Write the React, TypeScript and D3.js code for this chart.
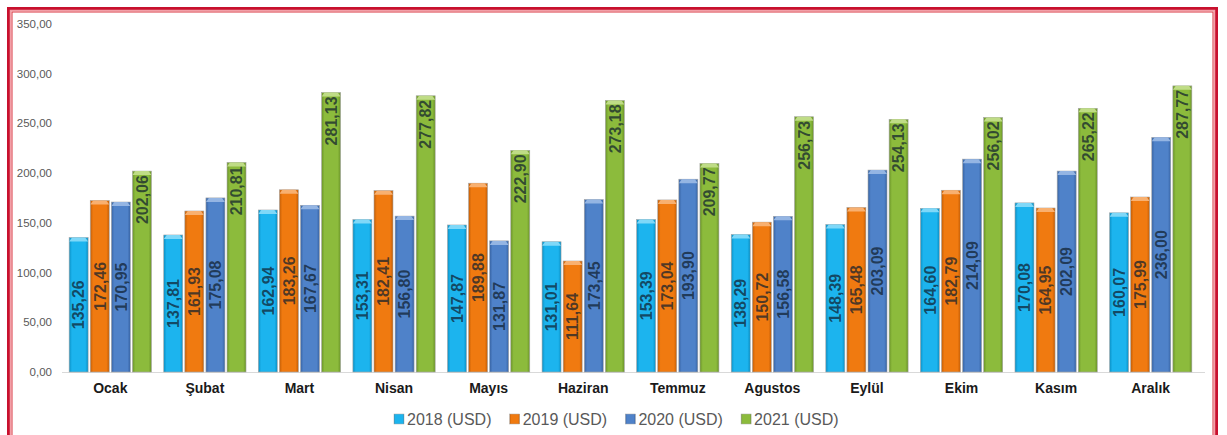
import React from "react";
import * as d3 from "d3";

const months = ["Ocak", "Şubat", "Mart", "Nisan", "Mayıs", "Haziran", "Temmuz", "Agustos", "Eylül", "Ekim", "Kasım", "Aralık"];
const seriesNames = ["2018 (USD)", "2019 (USD)", "2020 (USD)", "2021 (USD)"];
const v2018 = [135.26, 137.81, 162.94, 153.31, 147.87, 131.01, 153.39, 138.29, 148.39, 164.6, 170.08, 160.07];
const v2019 = [172.46, 161.93, 183.26, 182.41, 189.88, 111.64, 173.04, 150.72, 165.48, 182.79, 164.95, 175.99];
const v2020 = [170.95, 175.08, 167.67, 156.8, 131.87, 173.45, 193.9, 156.58, 203.09, 214.09, 202.09, 236.0];
const v2021 = [202.06, 210.81, 281.13, 277.82, 222.9, 273.18, 209.77, 256.73, 254.13, 256.02, 265.22, 287.77];
const yTicks = [0, 50, 100, 150, 200, 250, 300, 350];

const colors = ["#1cb4ee", "#f07a10", "#4f82c9", "#8cbb3c"];
const darker = ["#0a8fc4", "#c25d06", "#3763a3", "#6a9328"];
const lighter = ["#7fd8f8", "#f8b070", "#94b5e3", "#bfdc86"];

const fmt = (v: number) => d3.format(".2f")(v).replace(".", ",");

export default function App() {
  const W = 1227;
  const H = 435;
  const series = [v2018, v2019, v2020, v2021];

  const x = d3.scaleBand<string>().domain(months).range([63, 1198]).paddingInner(0.13).paddingOuter(0.065);
  const xs = d3.scaleBand<number>().domain([0, 1, 2, 3]).range([0, x.bandwidth()]).paddingInner(0.1);
  const y = d3.scaleLinear().domain([0, 350]).range([372, 24]);

  return (
    <svg width={W} height={H} style={{ position: "absolute", left: 0, top: 0 }} fontFamily="Arial, 'Liberation Sans', sans-serif">
      <defs>
        {colors.map((c, i) => (
          <linearGradient key={i} id={`g${i}`} x1="0" x2="1" y1="0" y2="0">
            <stop offset="0%" stopColor={darker[i]} />
            <stop offset="15%" stopColor={c} />
            <stop offset="85%" stopColor={c} />
            <stop offset="100%" stopColor={darker[i]} />
          </linearGradient>
        ))}
      </defs>
      <rect x={0} y={0} width={W} height={H} fill="#fff" />
      {/* double red frame */}
      <rect x={8.5} y={8.5} width={1208} height={440} fill="none" stroke="#c8102e" strokeWidth={3} />
      <rect x={10.5} y={10.5} width={1204} height={440} fill="none" stroke="#f2a0a8" strokeWidth={1.5} />
      <rect x={12} y={12} width={1201} height={440} fill="none" stroke="#d9333f" strokeWidth={1} />

      {/* y axis labels */}
      {yTicks.map((t) => (
        <text key={t} x={52} y={y(t)} dy="0.35em" textAnchor="end" fontSize={11.5} fill="#595959">
          {fmt(t)}
        </text>
      ))}
      <line x1={62} x2={1205} y1={372.5} y2={372.5} stroke="#d9d9d9" strokeWidth={1} />

      {months.map((m, mi) => (
        <g key={m} transform={`translate(${x(m)},0)`}>
          {series.map((s, si) => {
            const bx = xs(si)!;
            const bw = xs.bandwidth();
            const top = y(s[mi]);
            const h = y(0) - top;
            const cx = bx + bw / 2;
            const labelY = si === 3 ? top + 4 : top + h / 2;
            return (
              <g key={si}>
                <rect x={bx} y={top} width={bw} height={h} fill={`url(#g${si})`} stroke="#a6a6a6" strokeWidth={0.6} />
                <path d={`M${bx},${top + 4} L${bx + 3},${top} L${bx + bw - 3},${top} L${bx + bw},${top + 4} Z`} fill={lighter[si]} />
                <text
                  transform={`translate(${cx},${labelY}) rotate(-90)`}
                  textAnchor={si === 3 ? "end" : "middle"}
                  dy="0.36em"
                  fontSize={16}
                  fontWeight="bold"
                  fill="#10202e"
                  fillOpacity={0.72}
                >
                  {fmt(s[mi])}
                </text>
              </g>
            );
          })}
          <text x={x.bandwidth() / 2} y={393} textAnchor="middle" fontSize={14} fontWeight="bold" fill="#1a1a1a">
            {m}
          </text>
        </g>
      ))}

      {/* legend */}
      {seriesNames.map((n, i) => {
        const lx = 394 + i * 115.7;
        return (
          <g key={n}>
            <rect x={lx} y={414} width={10} height={10} fill={`url(#g${i})`} stroke="#a6a6a6" strokeWidth={0.5} />
            <text x={lx + 13} y={425} fontSize={16} fill="#595959">
              {n}
            </text>
          </g>
        );
      })}
    </svg>
  );
}
